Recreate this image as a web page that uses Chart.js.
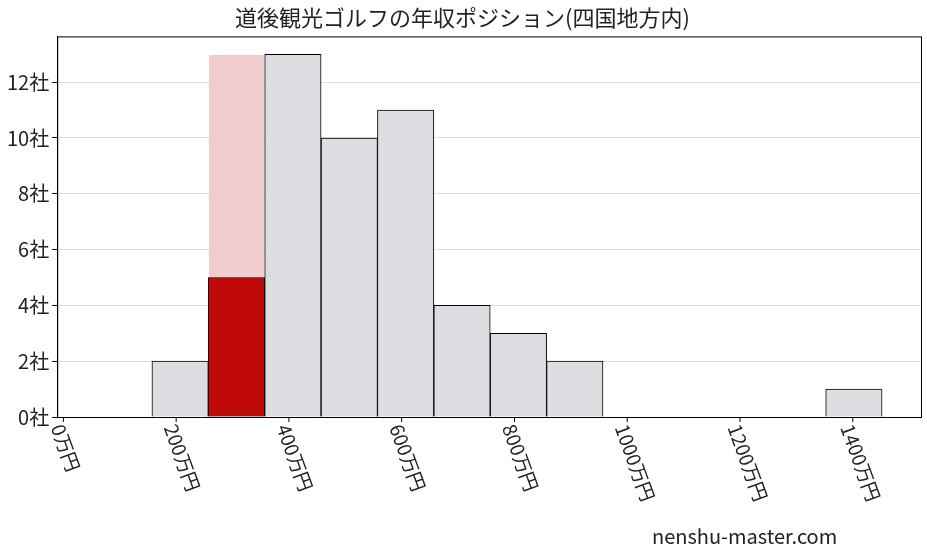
<!DOCTYPE html>
<html><head><meta charset="utf-8">
<script src="https://cdn.jsdelivr.net/npm/chart.js@4"></script>
<style>body{margin:0;background:#fff}#wrap{width:927px;height:557px;position:relative}</style>
</head><body>
<div id="wrap"><canvas id="c" width="927" height="557"></canvas></div>
<script>
// bin centers (万円) and counts
const binCenters = [207, 307, 407, 507, 607, 707, 807, 907, 1402];
const allCounts = [2, 13, 13, 10, 11, 4, 3, 2, 1];
const myBinCenter = [307];
const myCount = [5];
const xTicks = [0, 200, 400, 600, 800, 1000, 1200, 1400];
const yTicks = [0, 2, 4, 6, 8, 10, 12];

const font = "'Noto Sans CJK JP', 'Noto Sans', sans-serif";

const grayColors = binCenters.map(c => c === 307 ? '#f0cccc' : '#dcdde0');
const grayBorders = binCenters.map(c => c === 307 ? 'rgba(0,0,0,0)' : '#000');

// x tick labels rotated clockwise, frame, watermark
const rotLabels = {
  id: 'rotLabels',
  afterDraw(chart) {
    const ctx = chart.ctx, xs = chart.scales.x, a = chart.chartArea;
    ctx.save();
    ctx.strokeStyle = '#000';
    ctx.lineWidth = 1;
    ctx.strokeRect(a.left + 0.5, a.top + 0.5, a.right - a.left, a.bottom - a.top);
    ctx.font = '19px ' + font;
    ctx.fillStyle = '#222';
    xTicks.forEach(v => {
      const px = xs.getPixelForValue(v);
      ctx.beginPath();
      ctx.moveTo(px, a.bottom);
      ctx.lineTo(px, a.bottom + 5);
      ctx.stroke();
      ctx.save();
      ctx.translate(px - 6, a.bottom + 8);
      ctx.rotate(70 * Math.PI / 180);
      ctx.textBaseline = 'middle';
      ctx.fillText(v + '万円', 0, 0);
      ctx.restore();
    });
    ctx.font = '20px ' + font;
    ctx.fillText('nenshu-master.com', 652, 544);
    ctx.restore();
  }
};

new Chart(document.getElementById('c'), {
  type: 'bar',
  data: {
    datasets: [
      { data: myBinCenter.map((x, i) => ({ x: x, y: myCount[i] })), backgroundColor: '#c00a0a', borderColor: '#000', borderWidth: 1, order: 0 },
      { data: binCenters.map((x, i) => ({ x: x, y: allCounts[i] })), backgroundColor: grayColors, borderColor: grayBorders, borderWidth: 1, order: 1 }
    ]
  },
  options: {
    responsive: false,
    animation: false,
    layout: { padding: { left: 4, right: 6, top: 0, bottom: 132 } },
    datasets: { bar: { grouped: false, barPercentage: 1, categoryPercentage: 1 } },
    plugins: {
      legend: { display: false },
      tooltip: { enabled: false },
      title: { display: true, text: '道後観光ゴルフの年収ポジション(四国地方内)', font: { family: font, size: 22, weight: 'normal' }, color: '#222', padding: { top: 4, bottom: 6 } }
    },
    scales: {
      x: {
        type: 'linear', min: -11, max: 1521, offset: false,
        afterBuildTicks: s => { s.ticks = xTicks.map(v => ({ value: v })); },
        ticks: { display: false },
        grid: { display: false },
        border: { color: '#000' }
      },
      y: {
        min: 0, max: 13.64,
        afterBuildTicks: s => { s.ticks = yTicks.map(v => ({ value: v })); },
        ticks: { callback: v => v + '社', font: { family: font, size: 20 }, color: '#222' },
        grid: { color: '#ddd', tickColor: '#000', tickLength: 5 },
        border: { color: '#000' }
      }
    }
  },
  plugins: [rotLabels]
});
</script>
</body></html>
